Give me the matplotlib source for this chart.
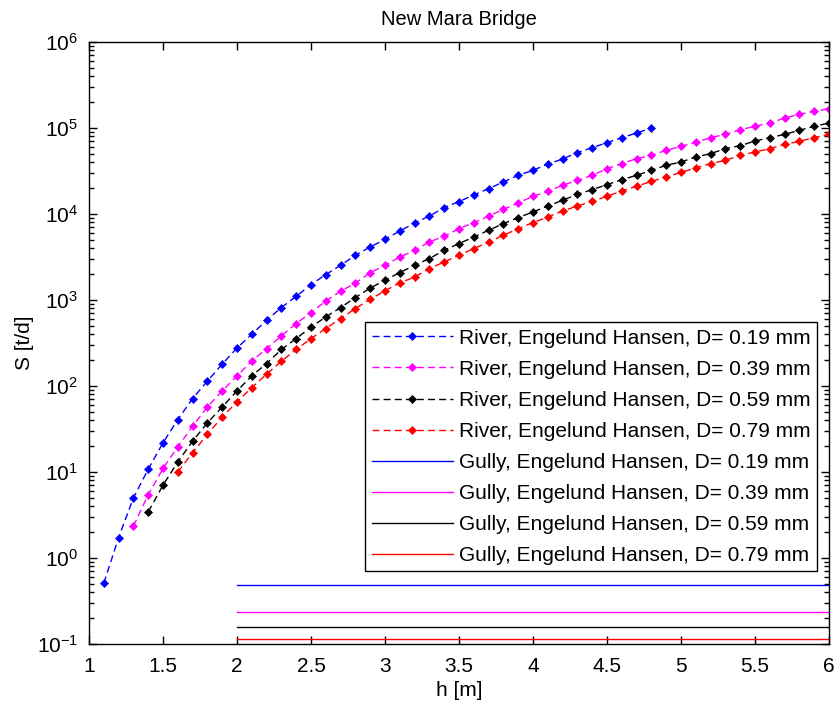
import numpy as np
import matplotlib
matplotlib.use("Agg")
import matplotlib.pyplot as plt
from matplotlib.ticker import LogLocator, NullFormatter, FixedLocator

plt.rcParams['font.family'] = ['Liberation Sans', 'DejaVu Sans']
plt.rcParams['mathtext.fontset'] = 'custom'
plt.rcParams['mathtext.rm'] = 'Liberation Sans'
plt.rcParams['font.size'] = 15

# ================= data =================
h_grid = [1.1, 1.2, 1.3, 1.4, 1.5, 1.6, 1.7, 1.8, 1.9, 2.0,
          2.1, 2.2, 2.3, 2.4, 2.5, 2.6, 2.7, 2.8, 2.9, 3.0,
          3.1, 3.2, 3.3, 3.4, 3.5, 3.6, 3.7, 3.8, 3.9, 4.0,
          4.1, 4.2, 4.3, 4.4, 4.5, 4.6, 4.7, 4.8, 4.9, 5.0,
          5.1, 5.2, 5.3, 5.4, 5.5, 5.6, 5.7, 5.8, 5.9, 6.0]

river_d019 = [0.51, 1.73, 5.0, 10.8, 21.8, 40.7, 71.4, 114, 179, 276,
              398, 580, 814, 1100, 1506, 1967, 2522, 3296, 4113, 5058,
              6310, 7818, 9425, 11800, 13860, 16520, 19630, 23400, 28000, 32000,
              37870, 43300, 51400, 58700, 67100, 76700, 86800, 99300]
river_d039 = [2.35, 5.45, 11.0, 19.6, 34.0, 57.0, 87.5, 131, 194, 272,
              381, 531, 712, 971, 1259, 1571, 2065, 2522, 3148, 3767,
              4703, 5480, 6730, 7900, 9350, 11280, 13340, 15960, 18250, 21430,
              24490, 28000, 33500, 38300, 43800, 47800, 54700, 60800, 67700, 76700,
              83800, 95000, 103800, 113500, 129700, 143200, 155000, 166700]
river_d059 = [3.44, 7.03, 13.1, 22.8, 37.2, 57.0, 87.5, 131, 182, 265,
              355, 484, 633, 814, 1064, 1371, 1690, 2075, 2522, 3020,
              3767, 4508, 5380, 6430, 7690, 9030, 10500, 12330, 14350, 16840,
              19100, 21830, 24950, 28000, 32000, 36600, 40000, 45700, 50000, 57200,
              61900, 70100, 76700, 83800, 93300, 103800, 113500]
river_d079 = [10.0, 16.8, 27.3, 43.6, 65.2, 95.8, 137, 194, 265, 355,
              464, 607, 793, 1016, 1276, 1571, 1846, 2310, 2755, 3296,
              3945, 4703, 5625, 6730, 7900, 9180, 10780, 12330, 13970, 15960,
              18400, 20860, 23830, 26740, 30340, 34040, 38300, 41800, 47800, 52200,
              57200, 64100, 69500, 76700, 83800]

# first h value of each river series
river_start = [1.1, 1.3, 1.4, 1.6]

gully_h = [2.0, 6.0]
gully_S = [0.49, 0.233, 0.159, 0.116]

diam = ["0.19", "0.39", "0.59", "0.79"]
colors = ['#0000ff', '#ff00ff', '#000000', '#ff0000']
x_ticks = [1, 1.5, 2, 2.5, 3, 3.5, 4, 4.5, 5, 5.5, 6]
x_ticklabels = ['1', '1.5', '2', '2.5', '3', '3.5', '4', '4.5', '5', '5.5', '6']

# ================= plot =================
fig = plt.figure(figsize=(8.36, 7.07), dpi=100)
ax = fig.add_axes([0.1065, 0.089, 0.885, 0.852])

river_all = [river_d019, river_d039, river_d059, river_d079]
for i, S in enumerate(river_all):
    i0 = h_grid.index(river_start[i])
    h = h_grid[i0:i0 + len(S)]
    ax.plot(h, S, color=colors[i], linestyle=(0, (5, 3)), linewidth=1.0,
            marker='D', markersize=4.4, markeredgewidth=0.5,
            label=f"River, Engelund Hansen, D= {diam[i]} mm")

for i, g in enumerate(gully_S):
    ax.plot(gully_h, [g, g], color=colors[i], linewidth=1.0,
            label=f"Gully, Engelund Hansen, D= {diam[i]} mm")

ax.set_yscale('log')
ax.set_xlim(1, 6)
ax.set_ylim(1e-1, 1e6)
ax.xaxis.set_major_locator(FixedLocator(x_ticks))
ax.set_xticklabels(x_ticklabels)
ax.yaxis.set_major_locator(LogLocator(base=10, numticks=20))
ax.yaxis.set_minor_locator(LogLocator(base=10, subs=np.arange(2, 10), numticks=20))
ax.yaxis.set_minor_formatter(NullFormatter())

ax.tick_params(which='both', direction='in', top=True, right=True, width=1.0)
ax.tick_params(which='major', length=6)
ax.tick_params(which='minor', length=3.5)
ax.tick_params(axis='x', which='major', pad=9)
ax.tick_params(axis='y', which='major', pad=8)
for s in ax.spines.values():
    s.set_linewidth(1.0)

ax.set_xlabel("h [m]", labelpad=4)
ax.set_ylabel("S [t/d]", labelpad=2)
ax.set_title("New Mara Bridge", fontsize=14.5, pad=12)

leg = ax.legend(loc='upper right', bbox_to_anchor=(0.984, 0.534), borderaxespad=0,
                numpoints=1, handlelength=3.9, handletextpad=0.3, borderpad=0.3,
                fancybox=False, framealpha=1, edgecolor='black',
                fontsize=15, labelspacing=0.58)
leg.get_frame().set_linewidth(1.0)

plt.savefig("out.png", dpi=100)
